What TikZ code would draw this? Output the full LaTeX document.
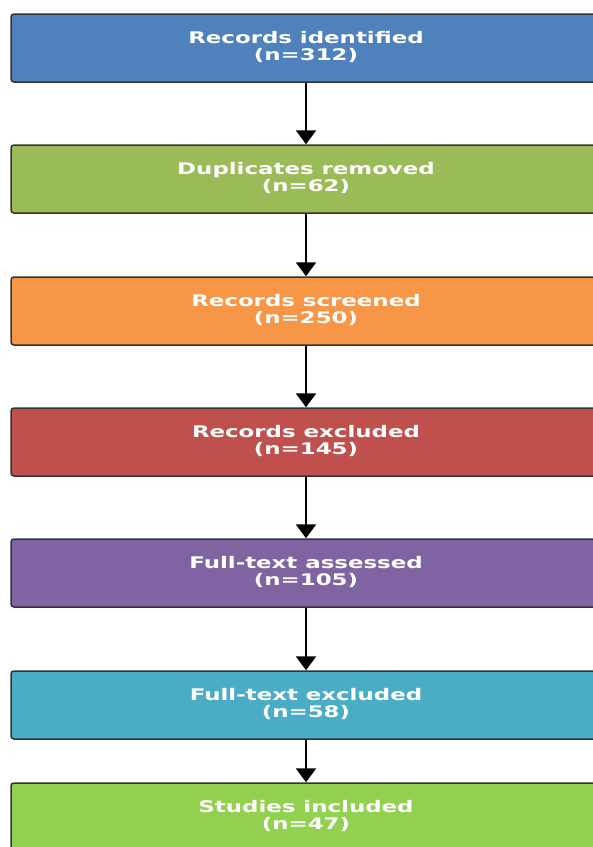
\documentclass[tikz,border=0pt]{standalone}
\usepackage{fontspec}
\setmainfont{DejaVu Sans}
\usetikzlibrary{arrows.meta}
\definecolor{idblue}{HTML}{4F81BD}
\definecolor{dupgreen}{HTML}{9BBB59}
\definecolor{scrorange}{HTML}{F79646}
\definecolor{exred}{HTML}{C0504D}
\definecolor{ftpurple}{HTML}{8064A2}
\definecolor{ftcyan}{HTML}{4BACC6}
\definecolor{incgreen}{HTML}{92D050}
\newcommand{\steptext}[2]{\scalebox{1.43}[1]{\begin{tabular}{@{}c@{}}#1\\[-1pt]#2\end{tabular}}}
\begin{document}
\begin{tikzpicture}[x=1pt,y=-1pt,
    stage/.style={draw=black!80,line width=1.5pt,rounded corners=3pt,
      minimum width=590pt,minimum height=68pt,inner sep=0pt,text=white,
      font=\fontsize{16}{18}\selectfont\bfseries},
    flow/.style={-{Triangle[width=20pt,length=14pt]},line width=2.6pt}]
    \useasboundingbox (0,0) rectangle (593,847);
    \node[stage,fill=idblue] (identified) at (306,48) {\steptext{Records identified}{(n=312)}};
    \node[stage,fill=dupgreen] (duplicates) at (306,179) {\steptext{Duplicates removed}{(n=62)}};
    \node[stage,fill=scrorange] (screened) at (306,311) {\steptext{Records screened}{(n=250)}};
    \node[stage,fill=exred] (excluded) at (306,442) {\steptext{Records excluded}{(n=145)}};
    \node[stage,fill=ftpurple] (assessed) at (306,573) {\steptext{Full-text assessed}{(n=105)}};
    \node[stage,fill=ftcyan] (ftexcluded) at (306,705) {\steptext{Full-text excluded}{(n=58)}};
    \node[stage,fill=incgreen] (included) at (306,817) {\steptext{Studies included}{(n=47)}};
    % arrows between stages
    \draw[flow] (identified) -- (duplicates);
    \draw[flow] (duplicates) -- (screened);
    \draw[flow] (screened) -- (excluded);
    \draw[flow] (excluded) -- (assessed);
    \draw[flow] (assessed) -- (ftexcluded);
    \draw[flow] (ftexcluded) -- (included);
\end{tikzpicture}
\end{document}
